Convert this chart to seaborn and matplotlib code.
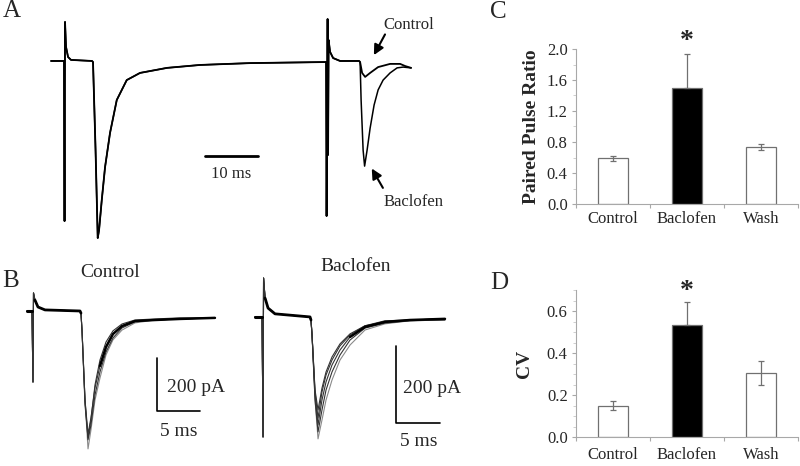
import numpy as np
import matplotlib
matplotlib.use("Agg")
import matplotlib.pyplot as plt
from matplotlib.ticker import MultipleLocator, FormatStrFormatter
import seaborn as sns

sns.set_theme(style="ticks")
plt.rcParams["font.family"] = ["Liberation Serif", "DejaVu Serif"]

# =========================
# Data
# =========================
# Panel A: paired-pulse recording (time in ms, current in pA)
a_pre_t = [0.0, 2.45, 2.55, 2.64, 2.83, 3.21, 3.77, 7.74, 7.92, 8.40, 8.81, 9.06, 9.57, 10.19,
           11.13, 12.40, 14.28, 16.79, 21.89, 28.11, 37.55, 51.89, 51.98, 52.17, 52.26, 52.36,
           52.64, 53.21, 54.53, 58.11]
a_pre_i = [0, 0, -603, 147, 53, 15, 4, 0, -4, -336, -667, -637, -524, -400,
           -271, -147, -72, -45, -26, -15, -8, -4, -584, 158, -354, 79,
           34, 11, 0, 0]
a_ctl_t = [58.30, 58.68, 59.25, 60.19, 61.70, 63.96, 65.85, 66.79, 67.92]
a_ctl_i = [-4, -45, -60, -45, -23, -11, -11, -19, -26]
a_bac_t = [58.30, 58.49, 58.87, 59.15, 59.62, 60.19, 60.94, 61.70, 62.64, 63.96, 65.28, 66.42, 67.92]
a_bac_i = [-4, -147, -336, -396, -336, -253, -166, -109, -72, -45, -26, -23, -26]

# Panel B: overlaid sweeps, control
b_ctl_pre_t = [-0.70, -0.12, 0.0, 0.06, 0.23, 0.58, 1.40, 5.47, 5.58]
b_ctl_pre_i = [0, 0, -268, 68, 41, 15, 4, 0, -8]
b_ctl_t = [5.70, 6.05, 6.40, 6.74, 7.21, 7.79, 8.49, 9.30, 10.35, 11.86, 14.19, 17.09, 21.16]
b_ctl_sweeps = [
    [-72, -336, -520, -449, -336, -253, -166, -109, -72, -45, -34, -30, -26],
    [-72, -336, -486, -430, -317, -230, -155, -102, -64, -41, -34, -30, -26],
    [-72, -336, -464, -403, -290, -207, -136, -87, -57, -38, -34, -30, -26],
    [-72, -354, -479, -411, -279, -185, -117, -75, -49, -34, -30, -26, -26],
]

# Panel B: overlaid sweeps, baclofen
b_bac_pre_t = [-0.91, -0.11, 0.0, 0.06, 0.23, 0.57, 1.36, 5.34, 5.45]
b_bac_pre_i = [0, 0, -312, 101, 49, 23, 8, 0, -8]
b_bac_t = [5.57, 5.91, 6.25, 6.70, 7.16, 7.84, 8.75, 9.89, 11.59, 13.86, 16.70, 20.68]
b_bac_sweeps = [
    [-47, -216, -317, -268, -216, -164, -112, -73, -34, -18, -10, -8],
    [-47, -216, -299, -242, -190, -143, -99, -60, -29, -16, -10, -8],
    [-47, -203, -281, -216, -169, -125, -86, -52, -26, -13, -8, -5],
    [-47, -195, -263, -195, -151, -112, -75, -47, -23, -13, -8, -5],
    [-47, -190, -242, -185, -143, -104, -70, -44, -23, -10, -8, -5],
]

# Panels C, D: bar summaries
categories = ["Control", "Baclofen", "Wash"]
ppr_mean = [0.59, 1.50, 0.74]
ppr_sem = [0.03, 0.44, 0.04]
cv_mean = [0.15, 0.535, 0.305]
cv_sem = [0.02, 0.107, 0.056]
bar_fill = ["white", "black", "white"]

W, H = 800, 466
fig = plt.figure(figsize=(W / 100, H / 100), dpi=100)


def box(x0, y0, x1, y1):
    # pixel box (top-left origin) -> figure rect
    return [x0 / W, 1 - y1 / H, (x1 - x0) / W, (y1 - y0) / H]


def trace(ax, t, i, lw=1.2, color="black"):
    sns.lineplot(x=t, y=i, ax=ax, color=color, lw=lw, sort=False, estimator=None)


arrow = dict(arrowstyle="-|>", color="black", lw=1.5, mutation_scale=15, shrinkA=0, shrinkB=0)

# =========================
# A. Paired pulse traces
# =========================
ax = fig.add_axes(box(40, 10, 420, 250))
trace(ax, a_pre_t + a_ctl_t, a_pre_i + a_ctl_i, lw=1.3)
trace(ax, a_pre_t + a_bac_t, a_pre_i + a_bac_i, lw=1.1)
ax.plot([29.06, 39.06], [-358, -358], color="black", lw=2)
ax.text(34.06, -426, "10 ms", ha="center", va="center", fontsize=12)
ax.text(67.4, 136, "Control", ha="center", va="center", fontsize=12)
ax.annotate("", xy=(60.9, 22), xytext=(63.0, 100), arrowprops=arrow)
ax.text(68.3, -532, "Baclofen", ha="center", va="center", fontsize=12)
ax.annotate("", xy=(60.5, -405), xytext=(62.6, -478), arrowprops=arrow)
ax.set_xlim(-2.08, 69.6)
ax.set_ylim(-712, 192)
ax.axis("off")

# =========================
# B. Overlaid sweeps
# =========================
ax = fig.add_axes(box(20, 250, 225, 460))
for k, sw in enumerate(b_ctl_sweeps):
    trace(ax, b_ctl_pre_t + b_ctl_t, b_ctl_pre_i + sw, lw=0.8,
          color="#333333" if k else "#8a8a8a")
trace(ax, b_ctl_pre_t[:2], b_ctl_pre_i[:2], lw=2.2)
trace(ax, b_ctl_pre_t[4:], b_ctl_pre_i[4:], lw=2.0)
trace(ax, b_ctl_t[5:], b_ctl_sweeps[2][5:], lw=1.8)
ax.plot([14.42, 14.42, 19.42], [-177, -377, -377], color="black", lw=1.2)
ax.text(15.58, -287, "200 pA", ha="left", va="center", fontsize=14)
ax.text(14.77, -456, "5 ms", ha="left", va="center", fontsize=14)
ax.text(8.95, 147, "Control", ha="center", va="center", fontsize=14)
ax.set_xlim(-1.51, 22.33)
ax.set_ylim(-562, 230)
ax.axis("off")

ax = fig.add_axes(box(245, 250, 450, 460))
for k, sw in enumerate(b_bac_sweeps):
    trace(ax, b_bac_pre_t + b_bac_t, b_bac_pre_i + sw, lw=0.8,
          color="#333333" if k else "#8a8a8a")
trace(ax, b_bac_pre_t[:2], b_bac_pre_i[:2], lw=2.2)
trace(ax, b_bac_pre_t[4:], b_bac_pre_i[4:], lw=2.0)
trace(ax, b_bac_t[7:], b_bac_sweeps[2][7:], lw=1.8)
ax.plot([15.11, 15.11, 20.11], [-75, -275, -275], color="black", lw=1.2)
ax.text(15.9, -185, "200 pA", ha="left", va="center", fontsize=14)
ax.text(15.57, -325, "5 ms", ha="left", va="center", fontsize=14)
ax.text(10.57, 130, "Baclofen", ha="center", va="center", fontsize=14)
ax.set_xlim(-2.05, 21.25)
ax.set_ylim(-372, 174)
ax.axis("off")


# =========================
# C, D. Bar charts
# =========================
def bars(ax, mean, sem, ymax, major, minor, ylabel, labelpad, xpad, star_y):
    sns.barplot(x=categories, y=mean, hue=categories, palette=bar_fill, width=0.41,
                edgecolor="#707070", linewidth=0.9, legend=False, errorbar=None, ax=ax)
    lower = [s if c == "white" else 0 for s, c in zip(sem, bar_fill)]
    ax.errorbar(range(3), mean, yerr=[lower, sem], fmt="none", ecolor="#707070",
                elinewidth=0.9, capsize=2.5, capthick=0.9, zorder=3)
    ax.text(1, star_y, "*", ha="center", va="center", fontsize=20, fontweight="bold")
    ax.set_xlim(-0.5, 2.5)
    ax.set_ylim(0, ymax)
    ax.yaxis.set_major_locator(MultipleLocator(major))
    ax.yaxis.set_minor_locator(MultipleLocator(minor))
    ax.yaxis.set_major_formatter(FormatStrFormatter("%.1f"))
    ax.set_xticks([0, 1, 2])
    ax.set_xticks([-0.5, 0.5, 1.5, 2.5], minor=True)
    ax.set_xticklabels(categories)
    sns.despine(ax=ax)
    for s in ("left", "bottom"):
        ax.spines[s].set_color("#a8a8a8")
        ax.spines[s].set_linewidth(0.8)
    ax.tick_params(axis="y", which="major", length=3, width=0.8, color="#a8a8a8",
                   labelsize=12, pad=3)
    ax.tick_params(axis="y", which="minor", length=2, width=0.6, color="#c8c8c8")
    ax.tick_params(axis="x", which="major", length=0, labelsize=12, pad=xpad)
    ax.tick_params(axis="x", which="minor", length=3, width=0.8, color="#a8a8a8")
    ax.set_xlabel("")
    ax.set_ylabel(ylabel, fontsize=14, fontweight="bold", labelpad=labelpad)
    ax.set_facecolor("white")


ax = fig.add_axes(box(576, 49, 798, 204))
bars(ax, ppr_mean, ppr_sem, 2.0, 0.4, 0.2, "Paired Pulse Ratio", 5, 5, 2.10)

ax = fig.add_axes(box(576, 290, 798, 437))
bars(ax, cv_mean, cv_sem, 0.70, 0.2, 0.05, "CV", 10, 7, 0.695)

# Panel letters
for letter, x, y in [("A", 3, 11), ("B", 2, 281), ("C", 490, 12), ("D", 490, 283)]:
    fig.text(x / W, 1 - y / H, letter, ha="left", va="center", fontsize=18)

plt.savefig("out.png", dpi=100)
